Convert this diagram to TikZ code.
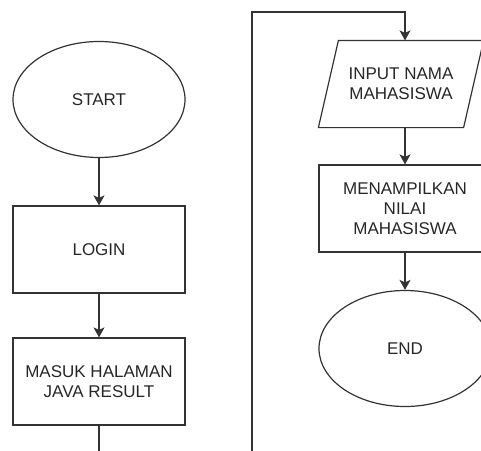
\documentclass[tikz,border=0pt]{standalone}
\usepackage{fontspec}
\setmainfont{Liberation Sans}
\usetikzlibrary{shapes.geometric, arrows.meta}

\begin{document}
\begin{tikzpicture}[x=1pt, y=-1pt, line width=1.2pt, draw=black!80,
        every node/.style={font=\fontsize{17}{20}\selectfont, align=center, text=black!85},
        terminal/.style={ellipse, draw, minimum width=172pt, minimum height=116pt, inner sep=0pt},
        process/.style={rectangle, draw, minimum width=172pt, minimum height=87pt, inner sep=2pt},
        io/.style={rectangle, minimum width=164pt, minimum height=86pt, inner sep=0pt},
        arr/.style={-{Stealth[length=10pt, width=11pt, inset=2.5pt]}}]
        \useasboundingbox (0,0) rectangle (481,450);
        \clip (0,0) rectangle (481,450);
        % left column
        \node[terminal] (start) at (99,99.5)  {START};
        \node[process]  (login) at (99,249.5) {LOGIN};
        \node[process]  (masuk) at (99,381.5) {MASUK HALAMAN\\JAVA RESULT};
        % right column
        \node[io]       (input)  at (401,84)   {INPUT NAMA\\MAHASISWA};
        \draw ([xshift=20pt]input.north west) -- (input.north east)
              -- ([xshift=-20pt]input.south east) -- (input.south west) -- cycle;
        \node[process]  (tampil) at (405,208.5) {MENAMPILKAN\\NILAI\\MAHASISWA};
        \node[terminal] (end)    at (405,348.5) {END};
        \coordinate (down)  at (99,452);
        \coordinate (up)    at (252,452);
        \coordinate (top)   at (252,12);
        \coordinate (over)  at (405,12);
        \draw[arr] (start) -- (login);
        \draw[arr] (login) -- (masuk);
        \draw (masuk) -- (down);
        \draw[arr] (up) -- (top) -- (over) -- (over |- input.north);
        \draw[arr] (input.south -| tampil.north) -- (tampil);
        \draw[arr] (tampil) -- (end);
\end{tikzpicture}
\end{document}
